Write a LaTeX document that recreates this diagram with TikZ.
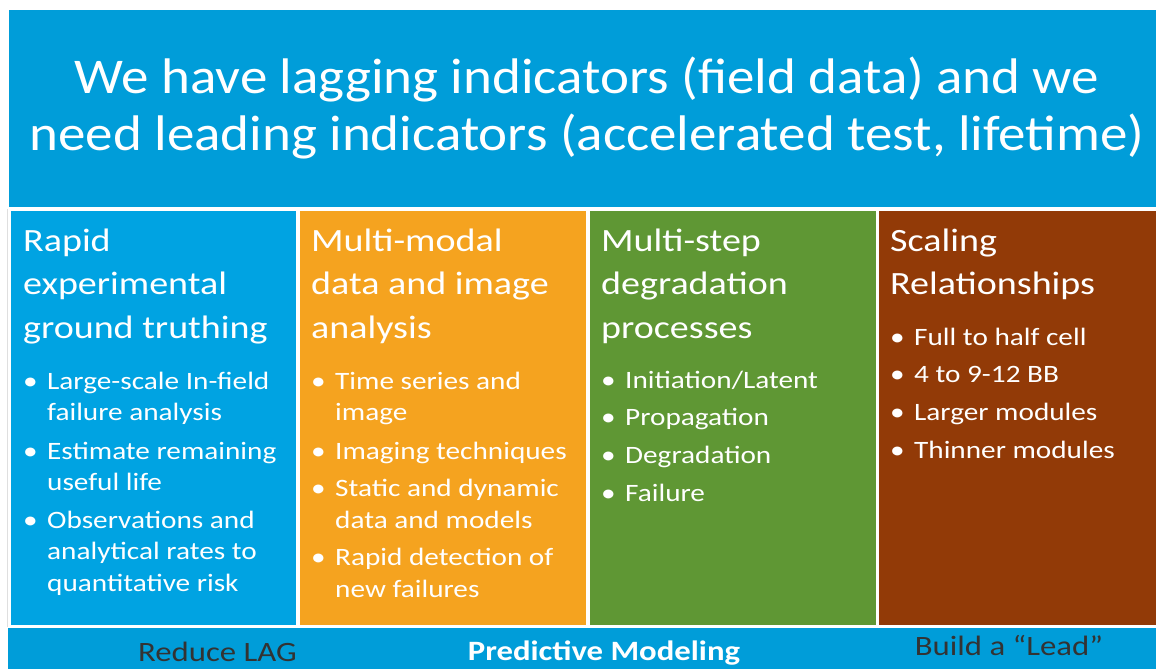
\documentclass[tikz,border=0pt]{standalone}
\usepackage{fontspec}
\setmainfont{Carlito}[FakeStretch=1.17]
\newfontfamily\ttlfam{Carlito}[FakeStretch=1.10]
\usetikzlibrary{positioning}
\definecolor{banblue}{HTML}{009DD9}
\definecolor{colblue}{HTML}{00A3E2}
\definecolor{colorange}{HTML}{F5A31F}
\definecolor{colgreen}{HTML}{5F9734}
\definecolor{colbrown}{HTML}{923A07}
\definecolor{darktext}{HTML}{333333}
\newcommand{\ttlfont}{\ttlfam\fontsize{50}{57}\selectfont}
\newcommand{\headfont}{\fontsize{32.5}{43.5}\selectfont}
\newcommand{\itemfont}{\fontsize{25}{31.5}\selectfont}
\newcommand{\barfont}{\fontsize{28}{30}\selectfont}
\newcommand{\blt}{\textbullet}

\begin{document}
\begin{tikzpicture}[x=1pt,y=-1pt,
  head/.style={anchor=north west, inner sep=0pt, text=white, font=\headfont},
  items/.style={anchor=north west, inner sep=0pt, text=white, font=\itemfont},
  bartext/.style={anchor=base, inner sep=0pt, font=\barfont}]
\useasboundingbox (0,0) rectangle (1156,669);
\fill[white] (0,0) rectangle (1156,669);
\begin{scope}
\clip (0,0) rectangle (1156,669);
% banner, columns and bottom bar
\fill[banblue] (9,10) rectangle (1156,207);
\fill[colblue] (11,211) rectangle (296,625);
\fill[colorange] (300,211) rectangle (586,625);
\fill[colgreen] (590,211) rectangle (876,625);
\fill[colbrown] (879,211) rectangle (1156,625);
\fill[banblue] (8,628) rectangle (1156,669);
\draw[gray!25, thin] (7,209) -- (7,627);

\node[anchor=north, inner sep=0pt, text=white, font=\ttlfont] (title) at (587,53.1)
  {\begin{tabular}{@{}c@{}}We have lagging indicators (field data) and we\\need leading indicators (accelerated test, lifetime)\end{tabular}};

% column 1
\node[head] (h1) at (23,220.5) {\begin{tabular}{@{}l@{}}Rapid\\experimental\\ground truthing\end{tabular}};
\node[items] (i1) at (23,367) {\begin{tabular}{@{}p{24pt}@{}l@{}}
\blt & Large-scale In-field\\ & failure analysis\\[7pt]
\blt & Estimate remaining\\ & useful life\\[6pt]
\blt & Observations and\\ & analytical rates to\\ & quantitative risk
\end{tabular}};

% column 2
\node[head] (h2) at (311,220.5) {\begin{tabular}{@{}l@{}}Multi-modal\\data and image\\analysis\end{tabular}};
\node[items] (i2) at (311,367) {\begin{tabular}{@{}p{24pt}@{}l@{}}
\blt & Time series and\\ & image\\[7pt]
\blt & Imaging techniques\\[6pt]
\blt & Static and dynamic\\ & data and models\\[6pt]
\blt & Rapid detection of\\ & new failures
\end{tabular}};

% column 3
\node[head] (h3) at (601,220.5) {\begin{tabular}{@{}l@{}}Multi-step\\degradation\\processes\end{tabular}};
\node[items] (i3) at (601,366) {\begin{tabular}{@{}p{24pt}@{}l@{}}
\blt & Initiation/Latent\\[6.2pt]
\blt & Propagation\\[6.2pt]
\blt & Degradation\\[6.2pt]
\blt & Failure
\end{tabular}};

% column 4
\node[head] (h4) at (890,220.5) {\begin{tabular}{@{}l@{}}Scaling\\Relationships\end{tabular}};
\node[items] (i4) at (890,323) {\begin{tabular}{@{}p{24pt}@{}l@{}}
\blt & Full to half cell\\[6.2pt]
\blt & 4 to 9-12 BB\\[6.2pt]
\blt & Larger modules\\[6.2pt]
\blt & Thinner modules
\end{tabular}};

% bottom bar
\node[bartext, text=darktext] (lag) at (217.5,661) {Reduce LAG};
\node[bartext, text=white, font=\barfont\bfseries] (pm) at (604,660) {Predictive Modeling};
\node[bartext, text=darktext] (lead) at (1009,655) {Build a “Lead”};
\end{scope}
\end{tikzpicture}
\end{document}
